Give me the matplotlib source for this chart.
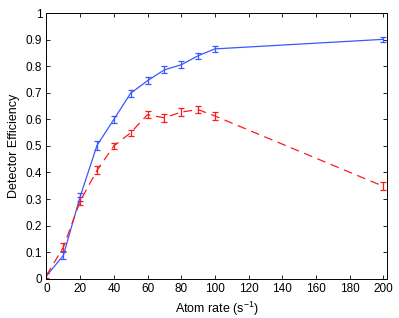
import matplotlib
matplotlib.use("Agg")
import matplotlib.pyplot as plt
from matplotlib.ticker import FuncFormatter

plt.rcParams['font.family'] = ['Liberation Sans', 'DejaVu Sans']
plt.rcParams['mathtext.fontset'] = 'custom'
plt.rcParams['mathtext.rm'] = 'Liberation Sans'
plt.rcParams['mathtext.it'] = 'Liberation Sans:italic'
plt.rcParams['mathtext.default'] = 'regular'

rate = [0, 10, 20, 30, 40, 50, 60, 70, 80, 90, 100, 200]
eff_blue = [0.01, 0.087, 0.309, 0.502, 0.600, 0.699, 0.746, 0.787, 0.806, 0.840, 0.866, 0.902]
err_blue = [0.010, 0.015, 0.015, 0.017, 0.013, 0.013, 0.013, 0.013, 0.013, 0.012, 0.011, 0.009]
eff_red = [0.012, 0.118, 0.292, 0.408, 0.500, 0.550, 0.618, 0.606, 0.628, 0.637, 0.613, 0.348]
err_red = [0.010, 0.015, 0.015, 0.015, 0.013, 0.012, 0.014, 0.014, 0.014, 0.014, 0.014, 0.015]

xticks = [0, 20, 40, 60, 80, 100, 120, 140, 160, 180, 200]
yticks = [0, 0.1, 0.2, 0.3, 0.4, 0.5, 0.6, 0.7, 0.8, 0.9, 1.0]

fig = plt.figure(figsize=(3.99, 3.18), dpi=100)
ax = fig.add_axes([0.1165, 0.124, 0.8525, 0.834])

blue = '#3a58ff'
red = '#ff1a1a'
ax.errorbar(rate, eff_blue, yerr=err_blue, color=blue, lw=0.9, elinewidth=0.9,
            capsize=2.5, capthick=0.9, linestyle='-')
ax.errorbar(rate, eff_red, yerr=err_red, color=red, lw=0.9, elinewidth=0.9,
            capsize=2.5, capthick=0.9, linestyle=(0, (7, 4.5)))

ax.set_xlim(0, 202)
ax.set_ylim(0, 1)
ax.set_xticks(xticks)
ax.set_yticks(yticks)
ax.yaxis.set_major_formatter(FuncFormatter(lambda v, p: ('%g' % round(v, 2))))
ax.tick_params(direction='in', top=True, right=True, labelsize=8.5, length=3, width=0.6, pad=3)
for s in ax.spines.values():
    s.set_linewidth(0.7)
ax.set_xlabel('Atom rate (s$^{-1}$)', fontsize=9, labelpad=4)
ax.set_ylabel('Detector Efficiency', fontsize=9, labelpad=4)

fig.savefig('out.png', dpi=100)
